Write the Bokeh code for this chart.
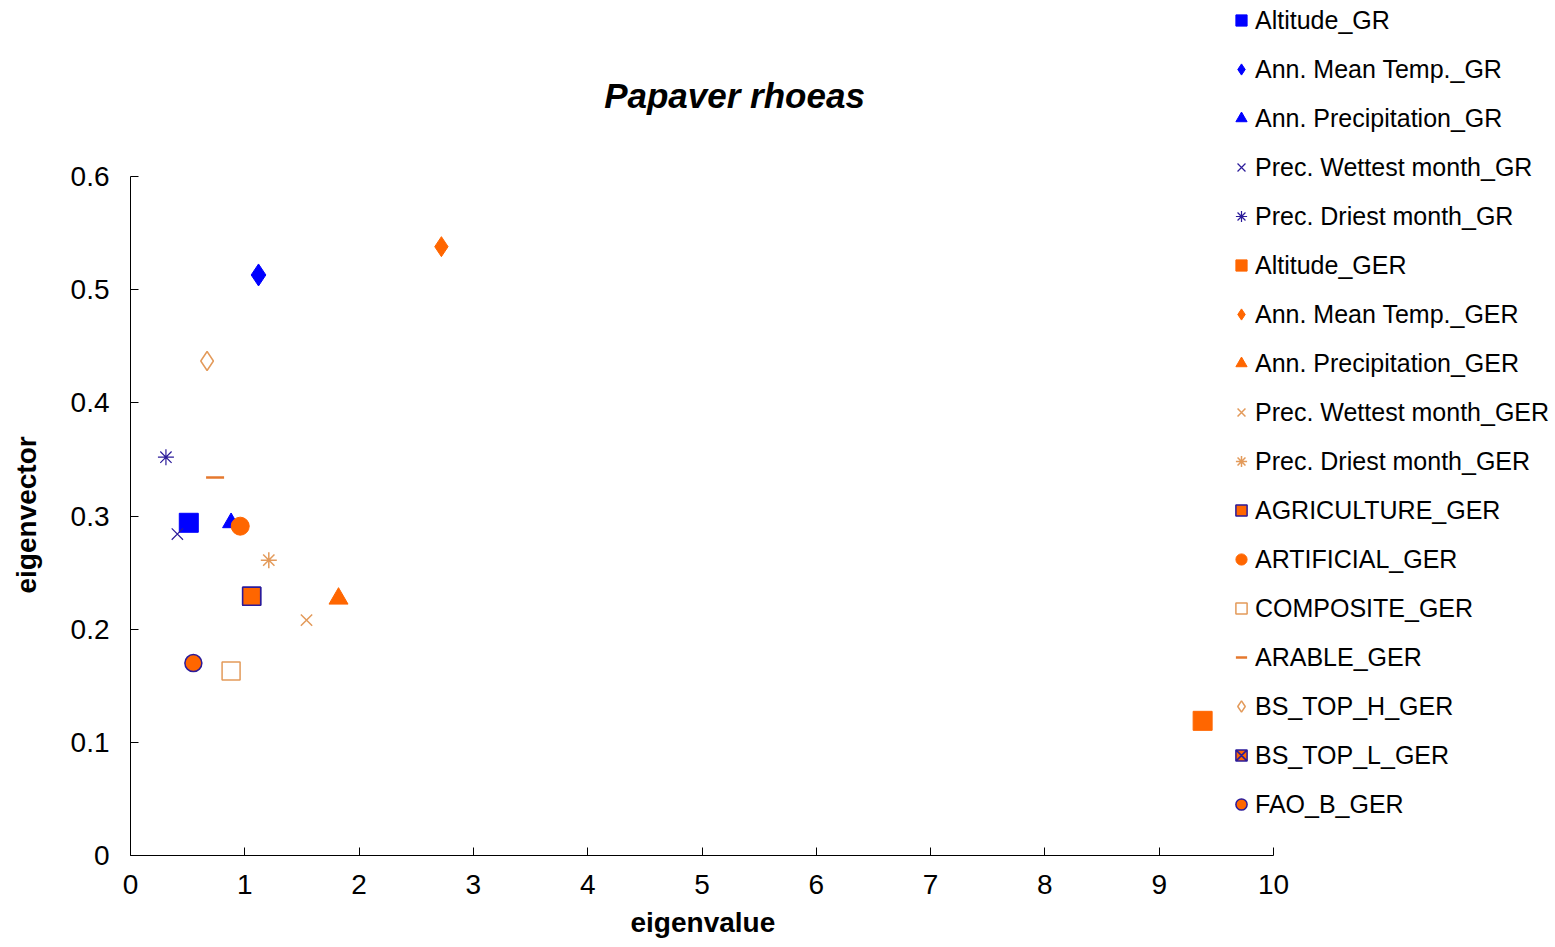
from bokeh.plotting import figure
from bokeh.models import Range1d, Legend, LegendItem, FixedTicker, Label, Title
from bokeh.embed import file_html
from bokeh.resources import INLINE

# ---- data ----
names = ["Altitude_GR", "Ann. Mean Temp._GR", "Ann. Precipitation_GR",
         "Prec. Wettest month_GR", "Prec. Driest month_GR",
         "Altitude_GER", "Ann. Mean Temp._GER", "Ann. Precipitation_GER",
         "Prec. Wettest month_GER", "Prec. Driest month_GER",
         "AGRICULTURE_GER", "ARTIFICIAL_GER", "COMPOSITE_GER", "ARABLE_GER",
         "BS_TOP_H_GER", "BS_TOP_L_GER", "FAO_B_GER"]
eigenvalue = [0.51, 1.12, 0.88, 0.41, 0.31,
              9.38, 2.72, 1.82, 1.54, 1.21,
              1.06, 0.96, 0.88, 0.74, 0.67, 1.06, 0.55]
eigenvector = [0.294, 0.513, 0.294, 0.284, 0.352,
               0.119, 0.538, 0.227, 0.208, 0.261,
               0.229, 0.291, 0.163, 0.334, 0.437, 0.229, 0.170]

x_ticks = [0, 1, 2, 3, 4, 5, 6, 7, 8, 9, 10]
y_ticks = [0, 0.1, 0.2, 0.3, 0.4, 0.5, 0.6]
title_text = "Papaver rhoeas"
x_label = "eigenvalue"
y_label = "eigenvector"

BLUE = "#0000FF"
NAVY = "#2B1B9A"
ORANGE = "#FF6600"
TAN = "#E39A5A"
DASHC = "#E5782E"

styles = [
    dict(marker="square", size=19, fill_color=BLUE, line_color=BLUE),
    dict(marker="diamond", size=22, fill_color=BLUE, line_color=BLUE),
    dict(marker="triangle", size=17, fill_color=BLUE, line_color=BLUE),
    dict(marker="x", size=16, fill_color=None, line_color=NAVY, line_width=1.2),
    dict(marker="asterisk", size=16, fill_color=None, line_color=NAVY, line_width=1.2),
    dict(marker="square", size=19, fill_color=ORANGE, line_color=ORANGE),
    dict(marker="diamond", size=20, fill_color=ORANGE, line_color=ORANGE),
    dict(marker="triangle", size=19, fill_color=ORANGE, line_color=ORANGE),
    dict(marker="x", size=16, fill_color=None, line_color=TAN, line_width=1.5),
    dict(marker="asterisk", size=16, fill_color=None, line_color=TAN, line_width=1.5),
    dict(marker="square", size=18, fill_color=ORANGE, line_color=NAVY, line_width=1.5),
    dict(marker="circle", size=18, fill_color=ORANGE, line_color=ORANGE),
    dict(marker="square", size=18, fill_color=None, line_color=TAN, line_width=1.5),
    dict(marker="dash", size=18, fill_color=None, line_color=DASHC, line_width=2.5),
    dict(marker="diamond", size=19, fill_color=None, line_color=TAN, line_width=1.5),
    dict(marker="square_x", size=18, fill_color=ORANGE, line_color=NAVY, line_width=1.5),
    dict(marker="circle", size=17, fill_color=ORANGE, line_color=NAVY, line_width=1.5),
]
# draw order: BS_TOP_L first (hidden under AGRICULTURE), then in series order
order = [15] + [i for i in range(len(names)) if i != 15]

FONT = "Liberation Sans"

# geometry: axes occupy 129..1272 px horizontally, 176..855 px vertically;
# the frame extends to the right/top edge so that the legend fits inside it.
W, H = 1555, 947
left, bottom = 129, 92
axis_w, axis_h = 1143, 679
frame_w, frame_h = W - left, H - bottom
x_end = x_ticks[-1] * frame_w / axis_w
y_end = y_ticks[-1] * frame_h / axis_h

p = figure(width=W, height=H, output_backend="svg", toolbar_location=None,
           x_range=Range1d(0, x_end), y_range=Range1d(0, y_end),
           min_border_left=left, min_border_right=0, min_border_top=0, min_border_bottom=bottom,
           frame_width=frame_w, frame_height=frame_h)
p.outline_line_color = None
p.grid.visible = False
p.background_fill_color = "white"
p.border_fill_color = "white"

for ax in (p.xaxis[0], p.yaxis[0]):
    ax.major_tick_in = 8
    ax.major_tick_out = 0
    ax.minor_tick_in = 0
    ax.minor_tick_out = 0
    ax.axis_line_color = "black"
    ax.major_tick_line_color = "black"
    ax.major_label_text_font = FONT
    ax.major_label_text_font_size = "28px"
    ax.major_label_text_color = "black"

p.xaxis[0].bounds = (x_ticks[0], x_ticks[-1])
p.yaxis[0].bounds = (y_ticks[0], y_ticks[-1])
p.xaxis[0].ticker = FixedTicker(ticks=x_ticks)
p.yaxis[0].ticker = FixedTicker(ticks=y_ticks)
p.xaxis[0].major_label_overrides = {v: str(v) for v in x_ticks}
p.yaxis[0].major_label_overrides = {v: ("0" if v == 0 else f"{v:.1f}") for v in y_ticks}
p.xaxis[0].major_label_standoff = 19
p.yaxis[0].major_label_standoff = 21
# invisible spacer label to push the y title outwards
p.yaxis[0].axis_label = " "
p.yaxis[0].axis_label_text_font_size = "1px"
p.yaxis[0].axis_label_standoff = 14

# axis titles, centred on the drawn axis extent (not the whole frame)
xt = Title(text=x_label, text_font=FONT, text_font_size="28px", text_font_style="bold",
           text_color="black", align="left", offset=500, standoff=16)
p.add_layout(xt, "below")
yt = Title(text=y_label, text_font=FONT, text_font_size="28px", text_font_style="bold",
           text_color="black", align="left", offset=262, standoff=16)
p.add_layout(yt, "left")

renderers = {}
for i in order:
    st = dict(styles[i])
    renderers[i] = p.scatter(x=[eigenvalue[i]], y=[eigenvector[i]], **st)

items = [LegendItem(label=names[i], renderers=[renderers[i]]) for i in range(len(names))]
legend = Legend(items=items, location=(1097, 36), orientation="vertical",
                label_text_font=FONT, label_text_font_size="25px", label_text_color="black",
                glyph_width=28, glyph_height=30, label_height=30, label_standoff=0,
                spacing=19, padding=0, margin=0,
                border_line_color=None, background_fill_alpha=0)
p.add_layout(legend, "center")

title = Label(x=733 - left, y=H - bottom - 95, x_units="screen", y_units="screen",
              text=title_text, text_font=FONT, text_font_size="35px",
              text_font_style="bold italic", text_color="black",
              text_align="center", text_baseline="middle")
p.add_layout(title)

open("out.html", "w").write(file_html(p, INLINE))
